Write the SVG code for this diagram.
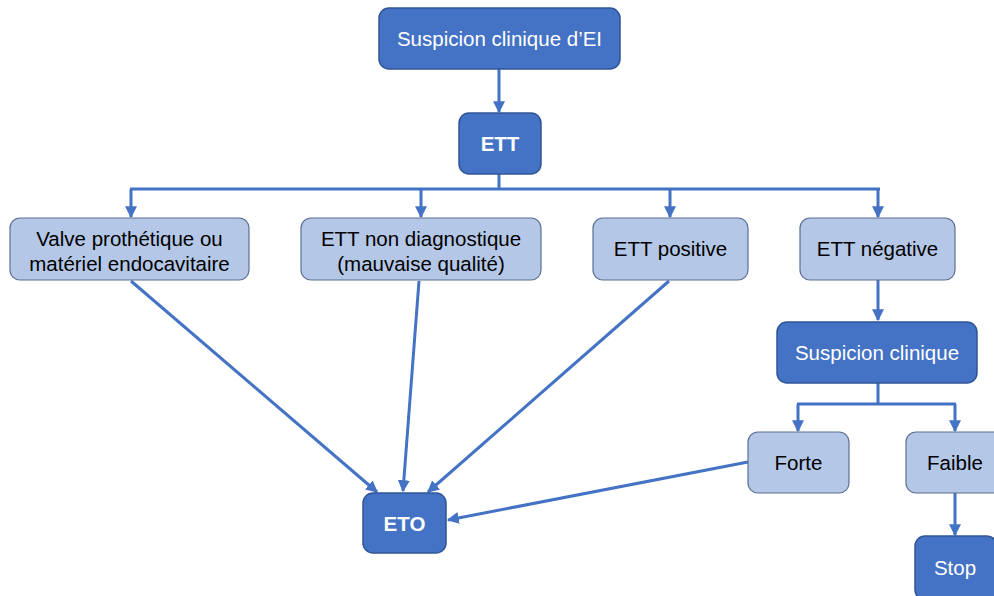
<svg xmlns="http://www.w3.org/2000/svg" width="994" height="596" viewBox="0 0 994 596">
<style>
.dk{fill:#4472C4;stroke:#2F5597;stroke-width:1.5}
.lt{fill:#B4C7E7;stroke:#5B6F92;stroke-width:1.2}
.tw{fill:#fff;font-family:"Liberation Sans",Arial,sans-serif;font-size:20.5px;text-anchor:middle}
.tb{fill:#000;font-family:"Liberation Sans",Arial,sans-serif;font-size:20.5px;text-anchor:middle}
.c{fill:none;stroke:#4472C4;stroke-width:3}
</style>
<defs>
<marker id="ah" viewBox="0 0 10 10" refX="9" refY="5" markerWidth="4" markerHeight="4" orient="auto" markerUnits="strokeWidth">
<path d="M0,0 L10,5 L0,10 Z" fill="#4472C4"/>
</marker>
</defs>
<rect width="994" height="596" fill="#fff"/>
<g id="connectors">
<line class="c" x1="499" y1="69" x2="499" y2="112" marker-end="url(#ah)"/>
<polyline class="c" points="499,174 499,189"/>
<line class="c" x1="130" y1="189" x2="880" y2="189"/>
<line class="c" x1="131" y1="189" x2="131" y2="217" marker-end="url(#ah)"/>
<line class="c" x1="421" y1="189" x2="421" y2="217" marker-end="url(#ah)"/>
<line class="c" x1="670" y1="189" x2="670" y2="217" marker-end="url(#ah)"/>
<line class="c" x1="878" y1="189" x2="878" y2="217" marker-end="url(#ah)"/>
<line class="c" x1="878" y1="280" x2="878" y2="320" marker-end="url(#ah)"/>
<line class="c" x1="878" y1="383" x2="878" y2="404"/>
<line class="c" x1="797" y1="404" x2="956" y2="404"/>
<line class="c" x1="798" y1="404" x2="798" y2="431" marker-end="url(#ah)"/>
<line class="c" x1="955" y1="404" x2="955" y2="431" marker-end="url(#ah)"/>
<line class="c" x1="955" y1="493" x2="955" y2="535" marker-end="url(#ah)"/>
<line class="c" x1="131" y1="281" x2="377" y2="492" marker-end="url(#ah)"/>
<line class="c" x1="419" y1="281" x2="403" y2="491" marker-end="url(#ah)"/>
<line class="c" x1="669" y1="281" x2="428" y2="492" marker-end="url(#ah)"/>
<line class="c" x1="748" y1="462" x2="448" y2="520" marker-end="url(#ah)"/>
</g>
<g id="n1"><rect class="dk" x="379" y="8" width="241" height="61" rx="10"/><text class="tw" x="499.5" y="46">Suspicion clinique d’EI</text></g>
<g id="n2"><rect class="dk" x="459" y="113" width="82" height="61" rx="10"/><text class="tw" x="500" y="151" font-weight="bold">ETT</text></g>
<g id="n3"><rect class="lt" x="10" y="218" width="239" height="62" rx="10"/><text class="tb" x="129.5" y="246">Valve prothétique ou</text><text class="tb" x="129.5" y="271">matériel endocavitaire</text></g>
<g id="n4"><rect class="lt" x="301" y="218" width="240" height="62" rx="10"/><text class="tb" x="421" y="246">ETT non diagnostique</text><text class="tb" x="421" y="271">(mauvaise qualité)</text></g>
<g id="n5"><rect class="lt" x="593" y="218" width="155" height="62" rx="10"/><text class="tb" x="670.5" y="256">ETT positive</text></g>
<g id="n6"><rect class="lt" x="800" y="218" width="155" height="62" rx="10"/><text class="tb" x="877.5" y="256">ETT négative</text></g>
<g id="n7"><rect class="dk" x="777" y="322" width="200" height="61" rx="10"/><text class="tw" x="877" y="360">Suspicion clinique</text></g>
<g id="n8"><rect class="lt" x="748" y="432" width="101" height="61" rx="10"/><text class="tb" x="798.5" y="470">Forte</text></g>
<g id="n9"><rect class="lt" x="906" y="432" width="98" height="61" rx="10"/><text class="tb" x="955" y="470">Faible</text></g>
<g id="n10"><rect class="dk" x="915" y="536" width="82" height="64" rx="10"/><text class="tw" x="955" y="575">Stop</text></g>
<g id="n11"><rect class="dk" x="363" y="493" width="83" height="60" rx="10"/><text class="tw" x="404.5" y="531" font-weight="bold">ETO</text></g>
</svg>
